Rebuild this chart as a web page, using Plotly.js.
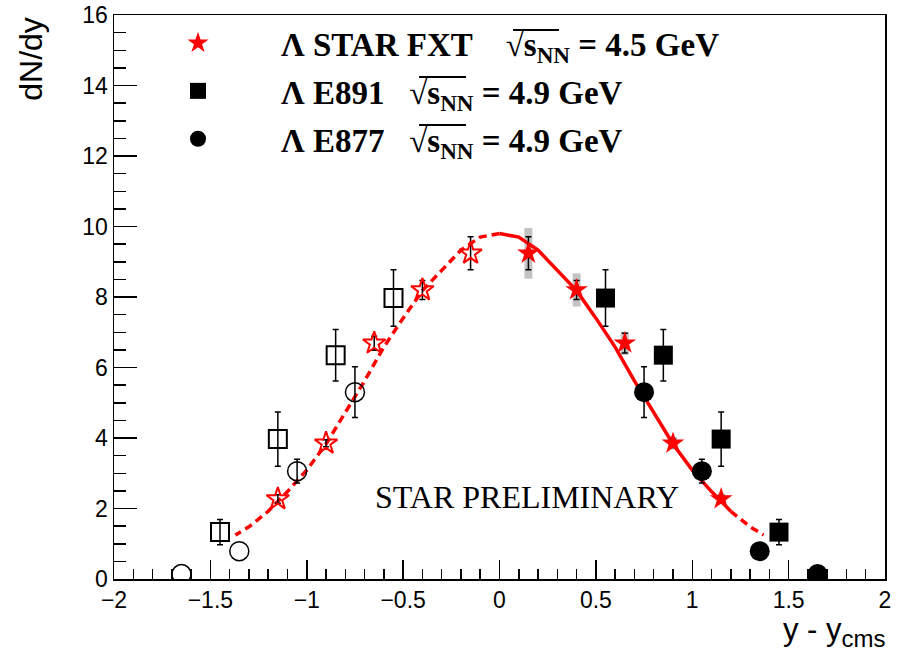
<!DOCTYPE html>
<html>
<head>
<meta charset="utf-8">
<script src="https://cdn.plot.ly/plotly-3.0.1.min.js"></script>
<style>html,body{margin:0;padding:0;background:#fff;}#chart{width:906px;height:657px;}</style>
</head>
<body>
<div id="chart"></div>
<script>
// STAR FXT Lambda, sqrt(sNN)=4.5 GeV (measured, forward half)
const starX = [0.15, 0.4, 0.65, 0.9, 1.15];
const starY = [9.24, 8.2, 6.69, 3.85, 2.27];
const starStat = [0.47, 0.27, 0.28, 0.12, 0.1];
const starSys = [0.72, 0.47, 0.33, 0.18, 0.15];
// reflected STAR points
const starReflX = [-0.15, -0.4, -0.65, -0.9, -1.15];
const starReflY = [9.24, 8.2, 6.69, 3.85, 2.27];
const starReflErr = [0.47, 0.27, 0.2, 0.1, 0.12];
// E891
const e891X = [0.55, 0.85, 1.15, 1.45];
const e891Y = [7.97, 6.35, 3.97, 1.33];
const e891Err = [0.8, 0.73, 0.77, 0.36];
const e891ReflX = [-0.55, -0.85, -1.15, -1.45];
const e891ReflY = [7.97, 6.35, 3.97, 1.33];
const e891ReflErr = [0.8, 0.73, 0.77, 0.36];
// E877 (last two points: error bars hidden by the marker)
const e877X = [0.75, 1.05, 1.35, 1.65];
const e877Y = [5.3, 3.06, 0.79, 0.14];
const e877Err = [0.72, 0.34, NaN, NaN];
const e877ReflX = [-0.75, -1.05, -1.35, -1.65];
const e877ReflY = [5.3, 3.06, 0.79, 0.14];
const e877ReflErr = [0.72, 0.34, NaN, NaN];
// fit curve (right half; left half mirrored)
const fitX = [0, 0.1, 0.2, 0.3, 0.4, 0.5, 0.6, 0.7, 0.8, 0.9, 1.0, 1.1, 1.2, 1.3, 1.37];
const fitY = [9.80, 9.70, 9.33, 8.76, 8.18, 7.40, 6.58, 5.62, 4.72, 3.83, 3.09, 2.48, 1.92, 1.48, 1.25];

const RED = '#ff0000';
const solidEnd = 12; // index of x = 1.2

const NB = '\u00A0';
const legendNames = [
  'Λ STAR FXT' + NB + NB + NB + ' √s<sub>NN</sub> = 4.5 GeV',
  'Λ E891' + NB + NB + ' √s<sub>NN</sub> = 4.9 GeV',
  'Λ E877' + NB + NB + ' √s<sub>NN</sub> = 4.9 GeV'
];

const errBar = (arr) => ({type:'data', array: arr, visible:true, color:'#000', thickness:1.5, width:3});

const traces = [
  // systematic boxes
  {x: starX, y: starY, type:'scatter', mode:'markers', marker:{size:1, opacity:0},
   error_y:{type:'data', array: starSys, visible:true, color:'rgba(185,185,185,0.85)', thickness:8, width:0},
   showlegend:false, hoverinfo:'skip'},
  // fit curve: left dashed
  {x: fitX.map(v => -v), y: fitY, type:'scatter', mode:'lines',
   line:{color:RED, width:3.5, dash:'8px,5px'}, showlegend:false},
  // right solid
  {x: fitX.slice(0, solidEnd+1), y: fitY.slice(0, solidEnd+1), type:'scatter', mode:'lines',
   line:{color:RED, width:3.5}, showlegend:false},
  // right dashed tail
  {x: fitX.slice(solidEnd), y: fitY.slice(solidEnd), type:'scatter', mode:'lines',
   line:{color:RED, width:3.5, dash:'8px,5px'}, showlegend:false},
  // reflected (open)
  {x: starReflX, y: starReflY, type:'scatter', mode:'markers',
   marker:{symbol:'star-open', size:17, color:RED, line:{color:RED, width:2}},
   error_y: errBar(starReflErr), showlegend:false},
  {x: e891ReflX, y: e891ReflY, type:'scatter', mode:'markers',
   marker:{symbol:'square-open', size:18, color:'#000', line:{color:'#000', width:2}},
   error_y: errBar(e891ReflErr), showlegend:false},
  {x: e877ReflX, y: e877ReflY, type:'scatter', mode:'markers',
   marker:{symbol:'circle-open', size:19, color:'#000', line:{color:'#000', width:1.5}},
   error_y: errBar(e877ReflErr), showlegend:false},
  // measured (filled)
  {x: starX, y: starY, type:'scatter', mode:'markers', name: legendNames[0], legendgroup:'a',
   marker:{symbol:'star', size:17, color:RED, line:{width:0}},
   error_y: errBar(starStat)},
  {x: e891X, y: e891Y, type:'scatter', mode:'markers', name: legendNames[1], legendgroup:'b',
   marker:{symbol:'square', size:19, color:'#000', line:{width:0}},
   error_y: errBar(e891Err)},
  {x: e877X, y: e877Y, type:'scatter', mode:'markers', name: legendNames[2], legendgroup:'c',
   marker:{symbol:'circle', size:20, color:'#000', line:{width:0}},
   error_y: errBar(e877Err)}
];

const tickFont = {family:'Liberation Sans, Arial, sans-serif', size:23, color:'#000'};

// overline of the square-root sign in the legend texts (paper coordinates)
const ovl = (x0, x1, y) => ({type:'line', xref:'paper', yref:'paper', x0:x0, x1:x1, y0:y, y1:y,
  line:{color:'#000', width:2}});

const layout = {
  width: 906, height: 657,
  margin: {l:114, r:21, t:15, b:78},
  paper_bgcolor:'#fff', plot_bgcolor:'#fff',
  showlegend: true,
  legend: {
    x: 0.0013, y: 1.0, xanchor:'left', yanchor:'top',
    bgcolor:'rgba(0,0,0,0)', borderwidth:0,
    font: {family:'Liberation Serif, Times New Roman, serif', size:33, color:'#000', weight:'bold'},
    itemwidth: 156, tracegroupgap: 2, traceorder:'grouped'
  },
  shapes: [
    ovl(0.5175, 0.5772, 0.9734),
    ovl(0.3956, 0.4565, 0.8901),
    ovl(0.3956, 0.4565, 0.8050)
  ],
  xaxis: {
    range:[-2, 2], dtick:0.5, tick0:0, showgrid:false, zeroline:false,
    showline:true, linecolor:'#000', linewidth:1.5, mirror:true,
    ticks:'inside', ticklen:19, tickwidth:1.5, tickcolor:'#000',
    minor:{dtick:0.1, ticks:'inside', ticklen:10, tickwidth:1.5, tickcolor:'#000'},
    tickfont: tickFont
  },
  yaxis: {
    range:[0, 16], dtick:2, tick0:0, showgrid:false, zeroline:false,
    showline:true, linecolor:'#000', linewidth:1.5, mirror:true,
    ticks:'inside', ticklen:23, tickwidth:1.5, tickcolor:'#000',
    minor:{dtick:0.5, ticks:'inside', ticklen:12, tickwidth:1.5, tickcolor:'#000'},
    tickfont: tickFont
  },
  annotations: [
    {text:'STAR PRELIMINARY', xref:'paper', yref:'paper', x:0.536, y:0.145,
     xanchor:'center', yanchor:'middle', showarrow:false,
     font:{family:'Liberation Serif, Times New Roman, serif', size:32, color:'#000'}},
    {text:'y - y<sub><span style="font-size:24px">cms</span></sub>', xref:'paper', yref:'paper', x:1, y:-0.094,
     xanchor:'right', yanchor:'middle', xshift:3, showarrow:false,
     font:{family:'Liberation Sans, Arial, sans-serif', size:31, color:'#000'}},
    {text:'dN/dy', xref:'paper', yref:'paper', x:-0.108, y:1, textangle:-90,
     xanchor:'center', yanchor:'top', showarrow:false,
     font:{family:'Liberation Sans, Arial, sans-serif', size:32, color:'#000'}}
  ]
};

Plotly.newPlot('chart', traces, layout, {staticPlot:true, displayModeBar:false});
</script>
</body>
</html>
